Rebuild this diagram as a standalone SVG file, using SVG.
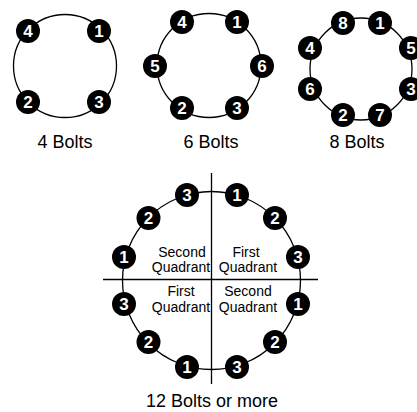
<svg xmlns="http://www.w3.org/2000/svg" width="417" height="412" viewBox="0 0 417 412">
<style>
.ring{fill:none;stroke:#000;stroke-width:1.3}
.axis{stroke:#000;stroke-width:1.3;fill:none}
.bolt circle{fill:#000}
.bolt text{fill:#fff;font-family:"Liberation Sans",Arial,sans-serif;font-size:17px;font-weight:bold;text-anchor:middle}
.lbl{font-family:"Liberation Sans",Arial,sans-serif;font-size:18px;fill:#000;text-anchor:middle}
.q{font-family:"Liberation Sans",Arial,sans-serif;font-size:14px;fill:#000;text-anchor:middle}
</style>
<g id="connectors">
<circle class="ring" cx="65" cy="66" r="51.5"/>
<circle class="ring" cx="209" cy="65.5" r="52"/>
<circle class="ring" cx="361" cy="69" r="51"/>
<circle class="ring" cx="211.5" cy="280.5" r="89"/>
<line class="axis" x1="211.5" y1="173" x2="211.5" y2="384"/>
<line class="axis" x1="103" y1="279.5" x2="318" y2="279.5"/>
</g>
<!-- 4 bolts -->
<g id="b4-4" class="bolt"><circle cx="28" cy="31" r="12"/><text x="28" y="37">4</text></g>
<g id="b4-1" class="bolt"><circle cx="99" cy="31" r="12"/><text x="99" y="37">1</text></g>
<g id="b4-2" class="bolt"><circle cx="28" cy="102" r="12"/><text x="28" y="108">2</text></g>
<g id="b4-3" class="bolt"><circle cx="99" cy="102" r="12"/><text x="99" y="108">3</text></g>
<text id="lbl4" class="lbl" x="65" y="148">4 Bolts</text>
<!-- 6 bolts -->
<g id="b6-4" class="bolt"><circle cx="182" cy="22" r="12"/><text x="182" y="28">4</text></g>
<g id="b6-1" class="bolt"><circle cx="237" cy="22" r="12"/><text x="237" y="28">1</text></g>
<g id="b6-5" class="bolt"><circle cx="155" cy="66" r="12"/><text x="155" y="72">5</text></g>
<g id="b6-6" class="bolt"><circle cx="262" cy="66" r="12"/><text x="262" y="72">6</text></g>
<g id="b6-2" class="bolt"><circle cx="182" cy="108" r="12"/><text x="182" y="114">2</text></g>
<g id="b6-3" class="bolt"><circle cx="237" cy="108" r="12"/><text x="237" y="114">3</text></g>
<text id="lbl6" class="lbl" x="211" y="148">6 Bolts</text>
<!-- 8 bolts -->
<g id="b8-8" class="bolt"><circle cx="343" cy="23" r="12"/><text x="343" y="29">8</text></g>
<g id="b8-1" class="bolt"><circle cx="380" cy="23" r="12"/><text x="380" y="29">1</text></g>
<g id="b8-4" class="bolt"><circle cx="310" cy="48" r="12"/><text x="310" y="54">4</text></g>
<g id="b8-5" class="bolt"><circle cx="411" cy="48" r="12"/><text x="411" y="54">5</text></g>
<g id="b8-6" class="bolt"><circle cx="310" cy="89" r="12"/><text x="310" y="95">6</text></g>
<g id="b8-3" class="bolt"><circle cx="411" cy="89" r="12"/><text x="411" y="95">3</text></g>
<g id="b8-2" class="bolt"><circle cx="343" cy="115" r="12"/><text x="343" y="121">2</text></g>
<g id="b8-7" class="bolt"><circle cx="380" cy="115" r="12"/><text x="380" y="121">7</text></g>
<text id="lbl8" class="lbl" x="357" y="148">8 Bolts</text>
<!-- 12 bolts -->
<g id="b12-tl3" class="bolt"><circle cx="187" cy="195" r="12"/><text x="187" y="201">3</text></g>
<g id="b12-tr1" class="bolt"><circle cx="237" cy="195" r="12"/><text x="237" y="201">1</text></g>
<g id="b12-tl2" class="bolt"><circle cx="148.5" cy="218" r="12"/><text x="148.5" y="224">2</text></g>
<g id="b12-tr2" class="bolt"><circle cx="275" cy="218" r="12"/><text x="275" y="224">2</text></g>
<g id="b12-tl1" class="bolt"><circle cx="124" cy="257" r="12"/><text x="124" y="263">1</text></g>
<g id="b12-tr3" class="bolt"><circle cx="298" cy="257" r="12"/><text x="298" y="263">3</text></g>
<g id="b12-bl3" class="bolt"><circle cx="124" cy="304" r="12"/><text x="124" y="310">3</text></g>
<g id="b12-br1" class="bolt"><circle cx="298" cy="304" r="12"/><text x="298" y="310">1</text></g>
<g id="b12-bl2" class="bolt"><circle cx="148.5" cy="342" r="12"/><text x="148.5" y="348">2</text></g>
<g id="b12-br2" class="bolt"><circle cx="275" cy="342" r="12"/><text x="275" y="348">2</text></g>
<g id="b12-bl1" class="bolt"><circle cx="187" cy="367" r="12"/><text x="187" y="373">1</text></g>
<g id="b12-br3" class="bolt"><circle cx="237" cy="367" r="12"/><text x="237" y="373">3</text></g>
<g id="q-tl"><text class="q" x="182" y="257">Second</text><text class="q" x="181" y="272">Quadrant</text></g>
<g id="q-tr"><text class="q" x="246" y="257">First</text><text class="q" x="248" y="272">Quadrant</text></g>
<g id="q-bl"><text class="q" x="181" y="296">First</text><text class="q" x="181" y="312">Quadrant</text></g>
<g id="q-br"><text class="q" x="248" y="296">Second</text><text class="q" x="248" y="312">Quadrant</text></g>
<text id="lbl12" class="lbl" x="212" y="407" font-size="18.5">12 Bolts or more</text>
</svg>
